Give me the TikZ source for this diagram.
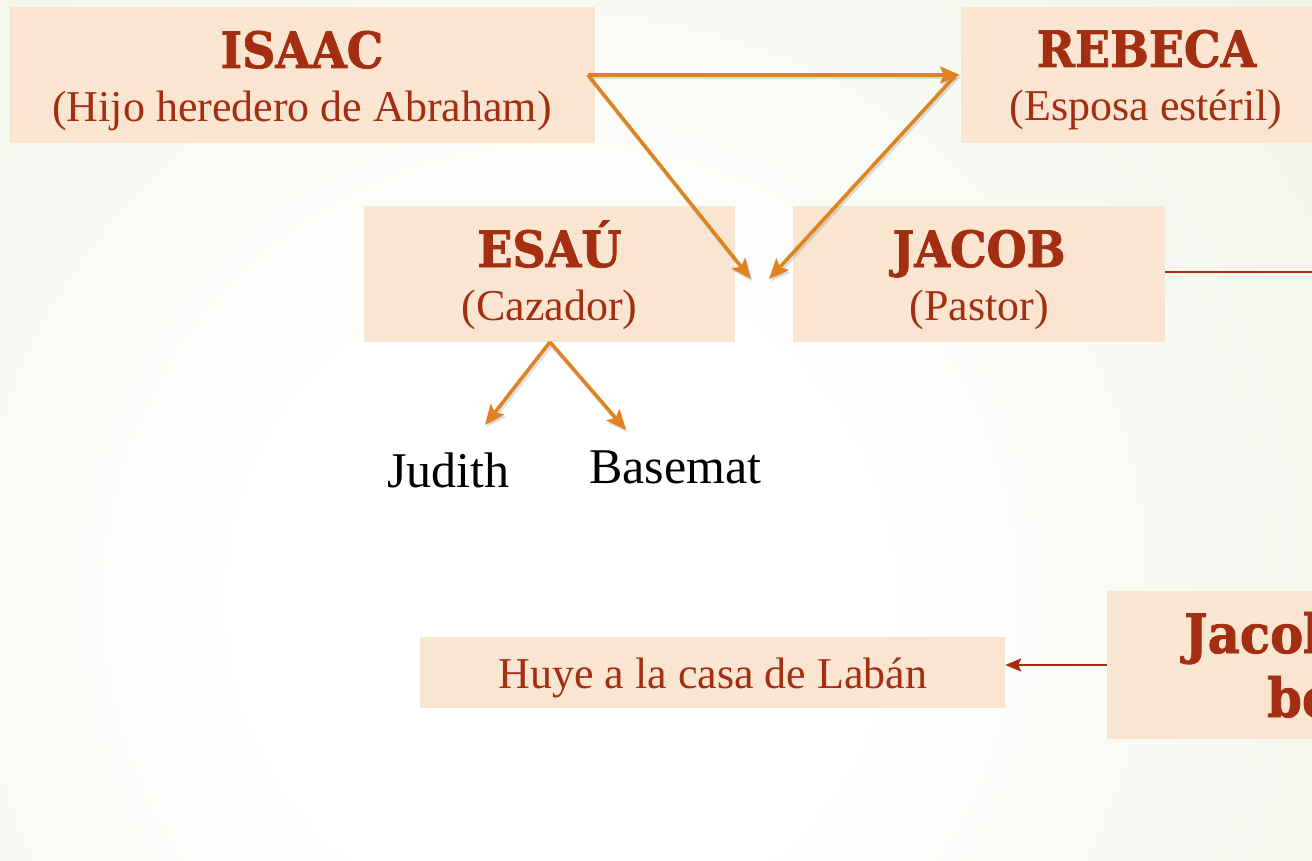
\documentclass[tikz,border=0pt]{standalone}
\usepackage{fontspec}
\setmainfont{Liberation Serif}
\newfontfamily\slab[FakeBold=1.6]{DejaVu Serif}
\usetikzlibrary{arrows.meta}
\definecolor{boxfill}{HTML}{FAE5D0}
\definecolor{txtred}{HTML}{A32E12}
\definecolor{orng}{HTML}{E0821E}
\definecolor{bggreen}{HTML}{E4ECD4}
\pgfdeclareradialshading{bgshade}{\pgfpoint{0bp}{0bp}}{color(0bp)=(white); color(5bp)=(white); color(25bp)=(bggreen); color(50bp)=(bggreen)}
\tikzset{
  box/.style={fill=boxfill, draw=none, inner sep=0pt},
  ttl/.style={text=txtred, inner sep=0pt, anchor=base, font=\slab\bfseries\fontsize{50}{60}\selectfont},
  sub/.style={text=txtred, inner sep=0pt, anchor=base, font=\fontsize{44}{50}\selectfont},
  plain/.style={text=black, inner sep=0pt, anchor=base west, font=\fontsize{50}{56}\selectfont},
  oarrow/.style={draw=orng, line width=3.5pt, -{Stealth[length=20pt,width=17pt,inset=4pt]},
    preaction={draw=black, opacity=0.12, line width=4pt, transform canvas={shift={(1.5pt,-2.5pt)}}}},
  rarrow/.style={draw=txtred, line width=2.5pt, -{Stealth[length=16pt,width=13pt,inset=3pt]}},
  rline/.style={draw=txtred, line width=2pt}
}
\begin{document}
\begin{tikzpicture}[x=1pt,y=-1pt]
\useasboundingbox (0,0) rectangle (1312,861);
\clip (0,0) rectangle (1312,861);
\shade[shading=bgshade] (560,600) circle (1500pt);

% boxes
\node[box, minimum width=585pt, minimum height=136pt] (isaac) at (302.5,75) {};
\node[box, minimum width=371pt, minimum height=136pt] (rebeca) at (1146.5,75) {};
\node[box, minimum width=371pt, minimum height=136pt] (esau) at (549.5,274) {};
\node[box, minimum width=372pt, minimum height=136pt] (jacob) at (979,274) {};
\node[box, minimum width=585pt, minimum height=71pt] (huye) at (712.5,672.5) {};
\node[box, minimum width=300pt, minimum height=148pt] (jacbox) at (1257,665) {};

% texts
\node[ttl] (isaacT) at (302,68) {\scalebox{0.92}[1]{ISAAC}};
\node[sub] (isaacS) at (302,122) {(Hijo heredero de Abraham)};
\node[ttl] (rebecaT) at (1146.5,67) {\scalebox{0.92}[1]{REBECA}};
\node[sub] (rebecaS) at (1146,121) {(Esposa estéril)};
\node[ttl] (esauT) at (549.5,267) {\scalebox{0.92}[1]{ESAÚ}};
\node[sub] (esauS) at (549.5,320) {(Cazador)};
\node[ttl] (jacobT) at (979,267) {\scalebox{0.92}[1]{JACOB}};
\node[sub] (jacobS) at (979,320) {(Pastor)};
\node[sub] (huyeT) at (713,688) {Huye a la casa de Labán};
\node[ttl, anchor=base west, font=\slab\bfseries\fontsize{54}{60}\selectfont] (jacL1) at (1184,653) {\scalebox{0.92}[1]{Jacob}};
\node[ttl, anchor=base west, font=\slab\bfseries\fontsize{54}{60}\selectfont] (jacL2) at (1267,717) {\scalebox{0.92}[1]{be}};
\node[plain] (judith) at (387,487) {Judith};
\node[plain] (basemat) at (589,483) {Basemat};

% connector points
\coordinate (iR) at (588,75);
\coordinate (rL) at (960,75);
\coordinate (rL2) at (955,76);
\coordinate (m1) at (751,279);
\coordinate (m2) at (769,279);
\coordinate (eB) at (550,342);
\coordinate (jTip) at (485,425);
\coordinate (bTip) at (626,430);
\coordinate (jR) at (1165,272);
\coordinate (edge) at (1320,272);

% arrows
\draw[oarrow] (iR) -- (rL);
\draw[oarrow] (iR) -- (m1);
\draw[oarrow] (rL2) -- (m2);
\draw[oarrow] (eB) -- (jTip);
\draw[oarrow] (eB) -- (bTip);
\draw[rline] (jR) -- (edge);
\draw[rarrow] (jacbox.west) -- (jacbox.west -| huye.east);
\end{tikzpicture}
\end{document}
